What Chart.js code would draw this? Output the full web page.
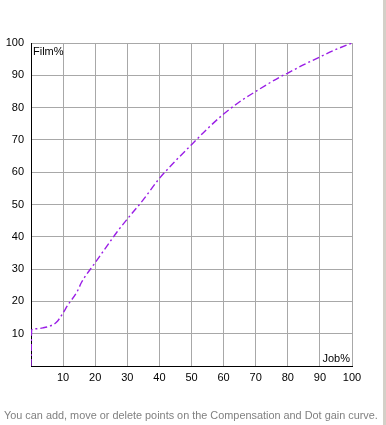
<!DOCTYPE html>
<html>
<head>
<meta charset="utf-8">
<script src="https://cdn.jsdelivr.net/npm/chart.js@4"></script>
<style>
  html, body { margin: 0; padding: 0; background: #fff; }
  #wrap { position: relative; width: 386px; height: 425px; overflow: hidden; }
  #edge { position: absolute; right: 0; top: 0; width: 3px; height: 425px; background: #d4d0c8; }
  #note { position: absolute; left: 4px; top: 409px; font: 10.5px "Liberation Sans", sans-serif; color: #808080; white-space: nowrap; }
</style>
</head>
<body>
<div id="wrap">
  <canvas id="chart" width="386" height="425"></canvas>
  <div id="edge"></div>
  <div id="note">You can add, move or delete points on the Compensation and Dot gain curve.</div>
</div>
<script>
// curve points
const jobPct  = [0, 0.2, 1, 3.7, 6, 8, 9.6, 11.5, 14.3, 15.8, 20, 25, 26.8, 30, 35, 39.6, 45, 50, 55, 60, 65, 70, 77.6, 80, 85, 90, 95, 100];
const filmPct = [0, 11.1, 11.5, 11.8, 12.4, 13.6, 15.8, 18.9, 22.9, 26, 32, 39, 41.5, 45.5, 51.5, 57.6, 63.5, 68.5, 73.5, 78, 81.8, 85, 89.5, 90.7, 93.3, 95.7, 98, 100];

const tickFont = { family: 'Liberation Sans', size: 11 };

// fit the footer to the width it has in the picture
const note = document.getElementById('note');
note.style.fontSize = (10.5 * 374 / note.getBoundingClientRect().width) + 'px';

// axis names written inside the plot corners
const axisNames = {
  id: 'axisNames',
  afterDraw(chart) {
    const { ctx, chartArea } = chart;
    ctx.save();
    ctx.font = '11px "Liberation Sans"';
    ctx.fillStyle = '#000';
    ctx.textBaseline = 'top';
    ctx.textAlign = 'left';
    ctx.fillText('Film%', chartArea.left + 2, chartArea.top + 3);
    ctx.textBaseline = 'bottom';
    ctx.textAlign = 'right';
    ctx.fillText('Job%', chartArea.right - 2, chartArea.bottom - 2);
    ctx.restore();
  }
};

new Chart(document.getElementById('chart'), {
  type: 'line',
  data: {
    datasets: [{
      data: jobPct.map((x, i) => ({ x: x, y: filmPct[i] })),
      borderColor: '#9a1ee6',
      borderWidth: 1.4,
      borderDash: [7, 3, 2, 3],
      pointRadius: 0,
      cubicInterpolationMode: 'monotone',
      fill: false
    }]
  },
  options: {
    responsive: false,
    animation: false,
    layout: { padding: { left: 0, top: 43, right: 34, bottom: 39 } },
    scales: {
      x: {
        type: 'linear',
        min: 0, max: 100,
        afterFit(s) { s.height = 20; },
        grid: { color: '#a8a8a8', drawTicks: false },
        border: { color: '#000', width: 1 },
        ticks: { stepSize: 10, padding: 5, color: '#000', font: tickFont, callback: v => v === 0 ? '' : v }
      },
      y: {
        min: 0, max: 100,
        afterFit(s) { s.width = 31; },
        grid: { color: '#a8a8a8', drawTicks: false },
        border: { color: '#000', width: 1 },
        ticks: { stepSize: 10, padding: 7, color: '#000', font: tickFont, callback: v => v === 0 ? '' : v }
      }
    },
    plugins: { legend: { display: false }, tooltip: { enabled: false } }
  },
  plugins: [axisNames]
});
</script>
</body>
</html>
